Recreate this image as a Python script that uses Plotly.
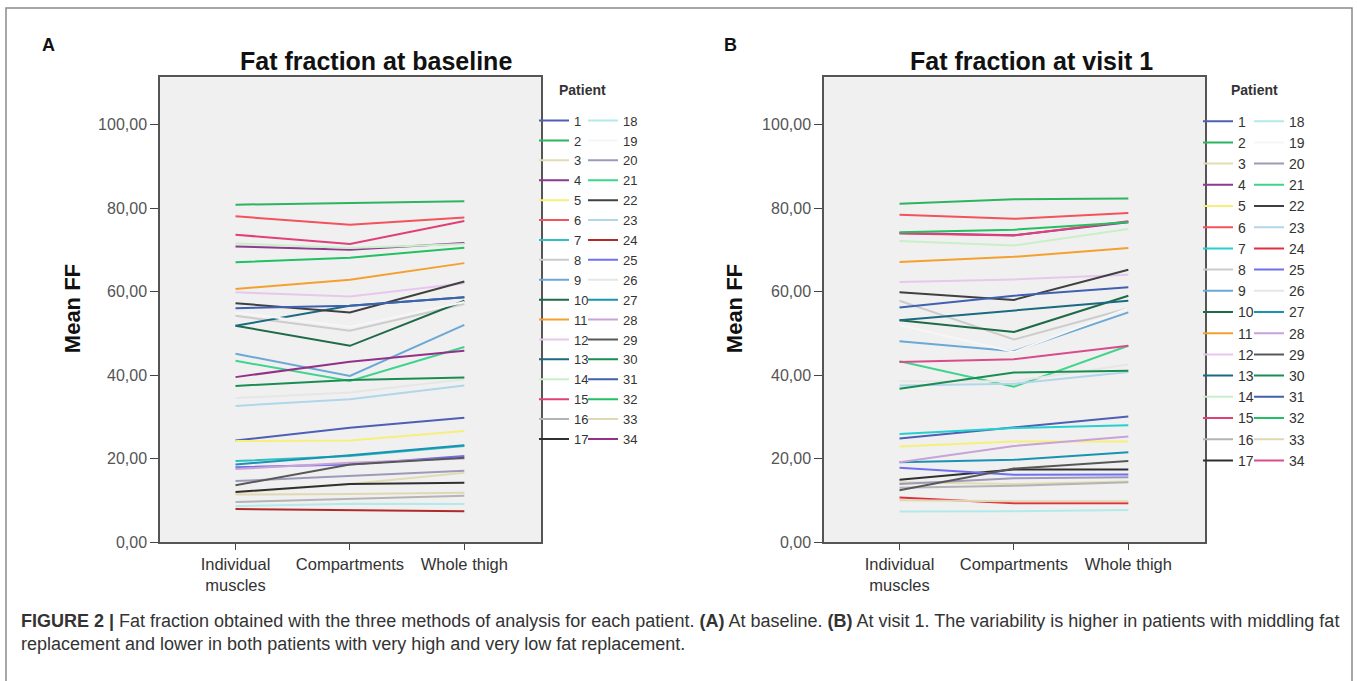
import plotly.graph_objects as go

W, H = 1357, 681

methods = ["Individual muscles", "Compartments", "Whole thigh"]
method_ticktext = ["Individual<br>muscles", "Compartments", "Whole thigh"]
y_tickvals = [0, 20, 40, 60, 80, 100]
y_ticktext = ["0,00", "20,00", "40,00", "60,00", "80,00", "100,00"]
patients = [str(i) for i in range(1, 35)]

# Baseline (panel A): mean FF per patient for each method
base_individual = [24.3, 80.8, 11.8, 70.8, 24.2, 78.0, 19.4, 54.2, 45.1, 51.8, 60.6, 59.8,
                   51.8, 71.5, 73.6, 9.6, 12.0, 8.6, 55.0, 14.6, 43.4, 57.2, 32.6, 7.9,
                   17.9, 34.5, 18.6, 17.5, 13.6, 37.4, 56.0, 67.0, 11.4, 39.5]
base_compartments = [27.4, 81.2, 13.9, 70.0, 24.3, 76.0, 20.6, 50.6, 39.8, 47.0, 62.8, 58.8,
                     56.6, 70.4, 71.4, 10.4, 13.9, 9.2, 51.5, 15.8, 38.6, 55.0, 34.2, 7.6,
                     18.6, 35.8, 20.8, 19.0, 18.6, 38.8, 56.6, 68.1, 11.5, 43.2]
base_whole = [29.8, 81.6, 16.6, 71.6, 26.6, 77.7, 23.0, 57.0, 52.0, 57.8, 66.8, 62.0,
              58.6, 71.4, 76.9, 11.1, 14.2, 9.1, 57.5, 17.1, 46.7, 62.4, 37.5, 7.4,
              20.6, 39.0, 23.2, 20.0, 20.2, 39.4, 58.6, 70.5, 11.8, 45.8]

# Visit 1 (panel B)
v1_individual = [24.8, 81.0, 14.3, 74.0, 22.9, 78.4, 25.9, 57.8, 48.1, 53.1, 67.1, 62.3,
                 53.1, 72.1, 73.9, 13.0, 14.9, 7.3, 52.0, 13.9, 43.3, 59.8, 37.5, 10.7,
                 17.8, 38.5, 19.1, 19.1, 12.4, 36.7, 56.2, 74.2, 10.0, 43.1]
v1_compartments = [27.5, 82.1, 13.9, 73.5, 24.1, 77.4, 27.3, 48.5, 45.7, 50.3, 68.3, 62.9,
                   55.5, 71.0, 73.4, 13.5, 17.4, 7.4, 45.5, 15.3, 37.2, 58.0, 37.9, 9.3,
                   16.1, 38.5, 19.7, 23.0, 17.6, 40.6, 59.0, 74.8, 9.8, 43.8]
v1_whole = [30.1, 82.3, 14.5, 76.6, 24.1, 78.8, 28.0, 56.0, 55.0, 59.0, 70.4, 64.0,
            57.8, 75.0, 76.8, 14.3, 17.4, 7.7, 56.0, 15.5, 47.0, 65.2, 40.7, 9.3,
            16.2, 42.5, 21.5, 25.3, 19.4, 41.0, 61.0, 76.6, 9.8, 47.0]

colors_a = ["#4f5fb4", "#2db45f", "#e2dcb4", "#8e3a8e", "#f6ef7a", "#f4525c", "#2ec0c0",
            "#cccccc", "#6aa8d6", "#1f6a48", "#f5a02e", "#e8c6ee", "#1a6a82", "#c8f0c8",
            "#e0407a", "#b4b4b4", "#303030", "#b2eaea", "#f6f6f6", "#9c9ab8", "#3fd48c",
            "#404040", "#b0d6ea", "#b02a2a", "#7070ee", "#e6e6e6", "#1a92b2", "#c8a2d8",
            "#585858", "#1a8e52", "#4060b0", "#22c062", "#e0d8b2", "#943088"]
colors_b = ["#4f5fb4", "#2db45f", "#e2dcb4", "#8e3a8e", "#f6ef7a", "#f4525c", "#24d0d0",
            "#cccccc", "#6aa8d6", "#1f6a48", "#f5a02e", "#e8c6ee", "#1a6a82", "#c8f0c8",
            "#e0407a", "#b4b4b4", "#303030", "#b2eaea", "#f6f6f6", "#9c9ab8", "#3fd48c",
            "#404040", "#b0d6ea", "#e0303e", "#7070ee", "#e6e6e6", "#1a92b2", "#c8a2d8",
            "#585858", "#1a8e52", "#4060b0", "#22c062", "#e0d8b2", "#d84c8c"]

FONT = "Liberation Sans, Arial, sans-serif"

fig = go.Figure()

def add_panel(ind, comp, whole, colors, xa, ya, leg1, leg2):
    for i, p in enumerate(patients):
        fig.add_trace(go.Scatter(
            x=[0, 1, 2], y=[ind[i], comp[i], whole[i]],
            mode="lines", name=p, line=dict(color=colors[i], width=2),
            xaxis=xa, yaxis=ya, legend=leg1 if i < 17 else leg2,
            showlegend=True, hoverinfo="name+y"))

add_panel(base_individual, base_compartments, base_whole, colors_a, "x", "y", "legend", "legend2")
add_panel(v1_individual, v1_compartments, v1_whole, colors_b, "x2", "y2", "legend3", "legend4")

S = 0.983  # vertical compensation observed in the photographed page

def px(x):
    return x / W

def py(y):
    return 1 - (y / S) / H

def py_raw(y):
    return 1 - y / H

y_dom = [py(540), py(77)]
axis_common = dict(showline=True, linecolor="#555555", linewidth=1.5, mirror=True,
                   ticks="outside", tickcolor="#444444", tickwidth=1.3,
                   showgrid=False, zeroline=False, fixedrange=True)
xcommon = dict(axis_common, range=[-0.66, 2.67], tickvals=[0, 1, 2], ticktext=method_ticktext,
               ticklen=6, ticklabelstandoff=0,
               tickfont=dict(family=FONT, size=16.5, color="#333333"))
ycommon = dict(axis_common, range=[0, 111.3], tickvals=y_tickvals, ticktext=y_ticktext,
               ticklen=8,
               tickfont=dict(family=FONT, size=16, color="#555555"), domain=y_dom)

leg_common = dict(bgcolor="rgba(0,0,0,0)", borderwidth=0, yanchor="top",
                  xanchor="left", traceorder="normal", itemwidth=30, tracegroupgap=0,
                  itemclick=False, itemdoubleclick=False)

fig.update_layout(
    width=W, height=H,
    margin=dict(l=0, r=0, t=0, b=0),
    paper_bgcolor="white", plot_bgcolor="#f0f0f0",
    font=dict(family=FONT),
    xaxis=dict(xcommon, domain=[px(160), px(541)], anchor="y"),
    yaxis=dict(ycommon, anchor="x"),
    xaxis2=dict(xcommon, domain=[px(824), px(1205)], anchor="y2"),
    yaxis2=dict(ycommon, anchor="x2"),
    legend=dict(leg_common, x=px(534), y=py_raw(107), font=dict(family=FONT, size=13, color="#333333")),
    legend2=dict(leg_common, x=px(583), y=py_raw(107), font=dict(family=FONT, size=13, color="#333333")),
    legend3=dict(leg_common, x=px(1198), y=py_raw(107), font=dict(family=FONT, size=14, color="#333333")),
    legend4=dict(leg_common, x=px(1249), y=py_raw(107), font=dict(family=FONT, size=14, color="#333333")),
    showlegend=True,
)

annotations = [
    dict(text="<b>A</b>", x=px(40), y=py(45), xanchor="left", yanchor="middle",
         font=dict(size=18, color="#111111")),
    dict(text="<b>B</b>", x=px(722), y=py(45), xanchor="left", yanchor="middle",
         font=dict(size=18, color="#111111")),
    dict(text="<b>Fat fraction at baseline</b>", x=px(376), y=py(61), xanchor="center",
         yanchor="middle", font=dict(size=25, color="#111111")),
    dict(text="<b>Fat fraction at visit 1</b>", x=px(1031), y=py(61), xanchor="center",
         yanchor="middle", font=dict(size=25, color="#111111")),
    dict(text="<b>Patient</b>", x=px(582), y=py(90), xanchor="center", yanchor="middle",
         font=dict(size=14, color="#333333")),
    dict(text="<b>Patient</b>", x=px(1254), y=py(90), xanchor="center", yanchor="middle",
         font=dict(size=14, color="#333333")),
    dict(text="<b>Mean FF</b>", x=px(72), y=py(308), xanchor="center", yanchor="middle",
         textangle=-90, font=dict(size=22, color="#111111")),
    dict(text="<b>Mean FF</b>", x=px(734), y=py(308), xanchor="center", yanchor="middle",
         textangle=-90, font=dict(size=22, color="#111111")),
    dict(text="<b>FIGURE 2 |</b> Fat fraction obtained with the three methods of analysis for each patient. "
              "<b>(A)</b> At baseline. <b>(B)</b> At visit 1. The variability is higher in patients with middling fat"
              "<br>replacement and lower in both patients with very high and very low fat replacement.",
         x=px(19), y=py(607), xanchor="left", yanchor="top", align="left",
         font=dict(size=18, color="#333333")),
]
for a in annotations:
    a.update(xref="paper", yref="paper", showarrow=False)
fig.update_layout(annotations=annotations)

fig.update_layout(shapes=[
    dict(type="rect", xref="paper", yref="paper", x0=px(6), x1=px(1352), y0=py_raw(700), y1=py(8),
         line=dict(color="#8a8a8a", width=1.5), fillcolor="rgba(0,0,0,0)", layer="below"),
])

fig.write_html(
    "out.html", config={"displayModeBar": False},
    post_script=("var s=document.documentElement.style;s.margin='0';s.padding='0';"
                 "s.height='681px';s.overflow='hidden';"
                 "var b=document.body.style;b.margin='0';b.padding='0';"
                 "b.height='681px';b.overflow='hidden';"))
